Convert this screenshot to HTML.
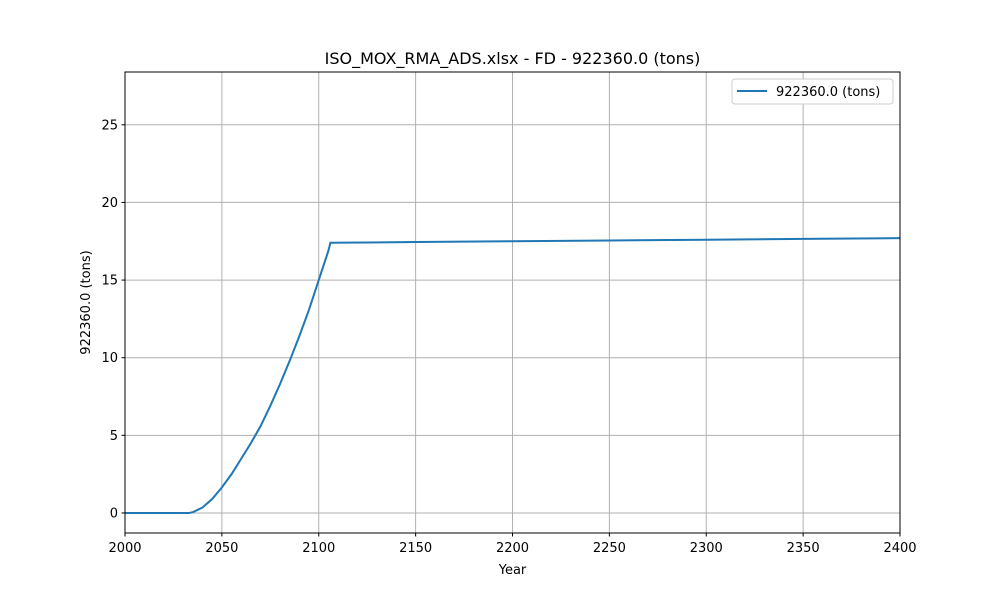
<!DOCTYPE html>
<html><head><meta charset="utf-8"><style>
body{margin:0;background:#fff;font-family:"Liberation Sans","DejaVu Sans",sans-serif}
svg text{font-family:"DejaVu Sans","Liberation Sans",sans-serif;fill:#000}
</style></head><body>
<svg id="c" width="1000" height="600" xmlns="http://www.w3.org/2000/svg"></svg>
<script>
const years=[2000,2033,2035,2040,2045,2050,2055,2060,2065,2070,2075,2080,2085,2090,2095,2100,2105,2106,2150,2200,2250,2300,2350,2400];
const values=[0,0,0.05,0.35,0.9,1.65,2.5,3.5,4.5,5.6,6.9,8.3,9.8,11.4,13.1,15.0,16.9,17.4,17.45,17.5,17.55,17.6,17.65,17.7];
const xTicks=[2000,2050,2100,2150,2200,2250,2300,2350,2400];
const yTicks=[0,5,10,15,20,25];
const seriesName="922360.0 (tons)";
const L=125,R=900,T=72,B=533,x0=2000,x1=2400,y0=-1.29,y1=28.4;
const X=v=>L+(v-x0)/(x1-x0)*(R-L);
const Y=v=>B-(v-y0)/(y1-y0)*(B-T);
const s=document.getElementById('c');const NS='http://www.w3.org/2000/svg';
function mk(t,a,p){const e=document.createElementNS(NS,t);for(const k in a)e.setAttribute(k,a[k]);(p||s).appendChild(e);return e;}
xTicks.forEach(v=>{const x=X(v);
const g=mk('line',{x1:x,x2:x,y1:T,y2:B,stroke:'#b0b0b0','stroke-width':1});


mk('line',{x1:x,x2:x,y1:B,y2:B+3.5,stroke:'#000'});
const t=mk('text',{x:x,y:B+19,'text-anchor':'middle','font-size':13});t.textContent=v;

});
yTicks.forEach(v=>{const y=Y(v);
const g=mk('line',{x1:L,x2:R,y1:y,y2:y,stroke:'#b0b0b0','stroke-width':1});


mk('line',{x1:L-3.5,x2:L,y1:y,y2:y,stroke:'#000'});
const t=mk('text',{x:L-7,y:y+4.5,'text-anchor':'end','font-size':13});t.textContent=v;

});
const p=mk('polyline',{points:years.map((v,i)=>X(v)+','+Y(values[i])).join(' '),fill:'none',stroke:'#1f77b4','stroke-width':2});


const f=mk('rect',{x:L,y:T,width:R-L,height:B-T,fill:'none',stroke:'#000','stroke-width':1});


const ti=mk('text',{x:512.5,y:64,'text-anchor':'middle','font-size':16});ti.textContent="ISO_MOX_RMA_ADS.xlsx - FD - 922360.0 (tons)";


const xl=mk('text',{x:512.5,y:574,'text-anchor':'middle','font-size':13});xl.textContent="Year";


const yl=mk('text',{x:90,y:302.5,'text-anchor':'middle','font-size':13,transform:'rotate(-90 90 302.5)'});yl.textContent="922360.0 (tons)";


const lg=mk('g',{});


mk('rect',{x:732,y:79,width:161,height:25,rx:3,fill:'#fff',stroke:'#ccc'},lg);
mk('line',{x1:737,x2:767,y1:91,y2:91,stroke:'#1f77b4','stroke-width':2},lg);
const lt=mk('text',{x:776,y:96,'font-size':13},lg);lt.textContent=seriesName;


</script>
</body></html>
